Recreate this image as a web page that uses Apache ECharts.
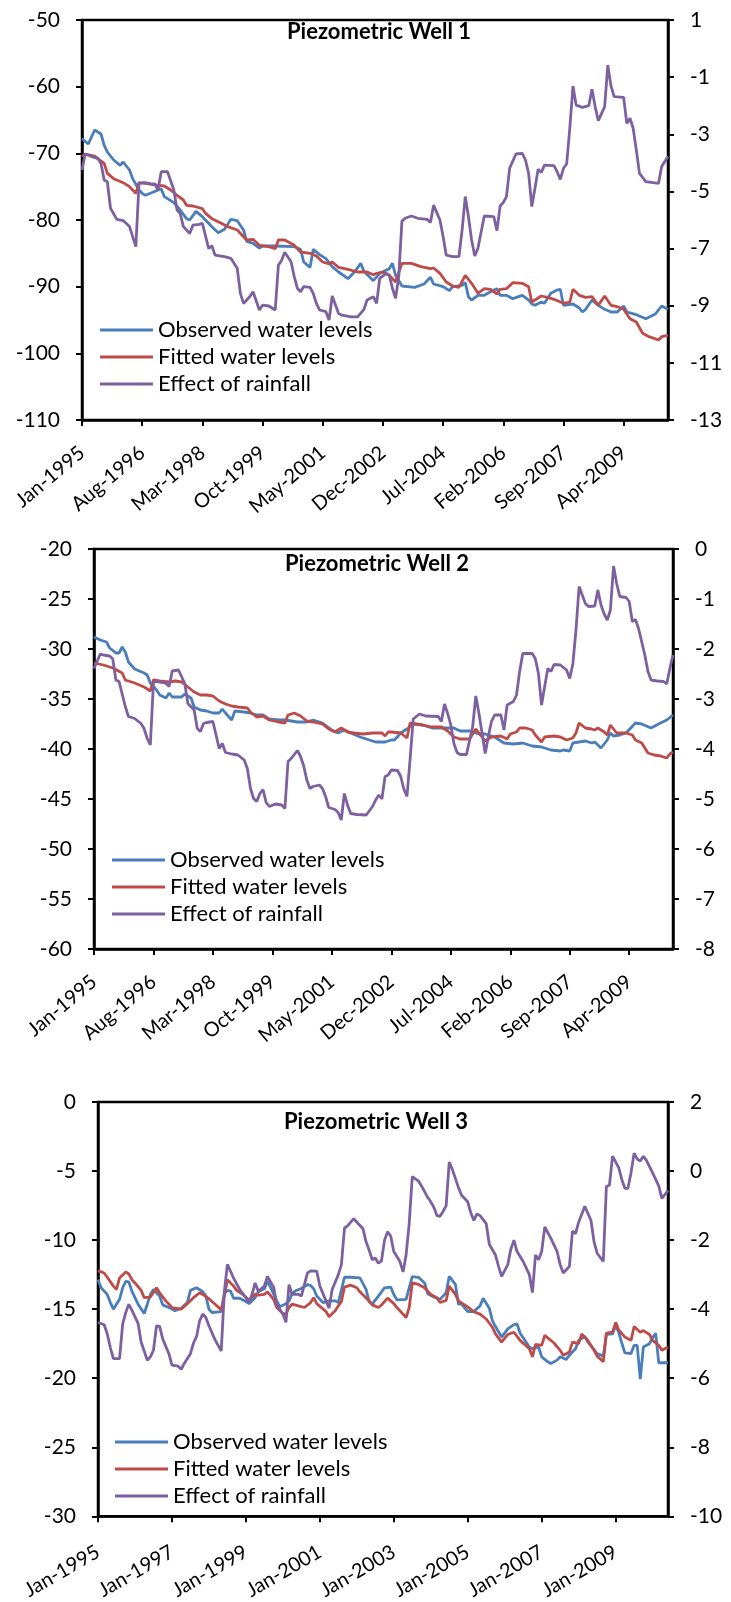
<!DOCTYPE html>
<html>
<head>
<meta charset="utf-8">
<title>Piezometric wells</title>
<script src="https://cdn.jsdelivr.net/npm/echarts@6/dist/echarts.min.js"></script>
<style>
  html, body { margin: 0; padding: 0; background: #fff; }
  #chart { width: 731px; height: 1602px; }
</style>
</head>
<body>
<div id="chart"></div>
<script>
// ===== categories: monthly, Jan-1995 .. Jun-2010 =====
const monthNames = ['Jan', 'Feb', 'Mar', 'Apr', 'May', 'Jun', 'Jul', 'Aug', 'Sep', 'Oct', 'Nov', 'Dec']
const months = []
for (let i = 0; i < 186; i++) months.push(monthNames[i % 12] + '-' + (1995 + Math.floor(i / 12)))

const seriesNames = ['Observed water levels', 'Fitted water levels', 'Effect of rainfall']
const wellTitles = ['Piezometric Well 1', 'Piezometric Well 2', 'Piezometric Well 3']

// ===== data: [month index, value] =====
// Well 1
const obs1 = [[0,-67.8],[2,-68.6],[4,-66.5],[6,-67.1],[7,-68.8],[8,-69.8],[10,-71],[12,-71.8],[13,-71.3],[15,-72.5],[16,-73.8],[18,-75.5],[19,-76],[20,-76.3],[22,-75.9],[25,-75.3],[26,-76.5],[27,-76.8],[29,-77.4],[31,-78.5],[33,-79.8],[34,-80],[36,-78.7],[38,-79.5],[41,-81],[43,-81.9],[45,-81.4],[47,-79.9],[49,-80.1],[51,-81.5],[52,-83.2],[54,-83.5],[56,-84.2],[57,-83.9],[61,-83.9],[67,-84],[69,-84.4],[70,-86.3],[72,-87.1],[73,-84.4],[75,-85.2],[77,-85.8],[79,-87],[81,-87.8],[84,-88.8],[86,-87.8],[88,-86.5],[89,-87.7],[92,-89.1],[94,-88],[97,-87.3],[98,-86.5],[99,-88.3],[101,-89.9],[105,-90.1],[108,-89.6],[110,-88.6],[111,-89.6],[114,-90],[116,-90.6],[117,-90],[120,-89.8],[121,-89.4],[122,-91.5],[123,-92],[125,-91.3],[127,-91.3],[130,-90.5],[131,-90.3],[132,-91.3],[134,-91.3],[136,-91.8],[139,-91.3],[141,-92],[142,-92.6],[143,-92.8],[145,-92.3],[146,-92.5],[148,-91],[150,-90.5],[151,-90.4],[152,-92.8],[155,-92.6],[157,-93.2],[158,-93.8],[159,-93.4],[161,-92],[163,-92.8],[165,-93.4],[167,-93.8],[169,-93.8],[171,-92.9],[172,-93.8],[175,-94.2],[178,-94.8],[181,-94.1],[183,-92.9],[185,-93.4]]
const fit1 = [[0,-70.5],[1,-70.1],[4,-70.4],[5,-70.8],[7,-71.5],[8,-73],[10,-73.8],[13,-74.4],[15,-75],[17,-76],[18,-74.4],[20,-74.5],[24,-74.8],[26,-74.9],[28,-75.5],[30,-76.3],[32,-77],[33,-77.8],[35,-77.9],[38,-78.3],[39,-79],[41,-79.8],[44,-80.5],[46,-81],[49,-81.5],[51,-82.5],[52,-83],[54,-82.9],[56,-83.8],[59,-84],[61,-84.3],[62,-83],[64,-83],[67,-83.8],[69,-84.8],[72,-85],[74,-85.4],[76,-86.3],[78,-86.6],[79,-86.3],[81,-87.1],[84,-87.4],[87,-87.8],[90,-87.8],[92,-88.2],[93,-88],[95,-87.8],[97,-88.3],[99,-89.3],[101,-86.5],[104,-86.5],[107,-87],[110,-87.3],[111,-87.2],[113,-88],[115,-89.3],[117,-89.9],[119,-90.1],[121,-88.3],[123,-89.5],[125,-91],[127,-90.3],[129,-90.4],[131,-91.1],[132,-90.4],[134,-90.3],[136,-89.4],[139,-89.5],[141,-90],[142,-92.3],[145,-91.4],[147,-91.6],[149,-91.9],[152,-92.5],[154,-92.3],[155,-90.4],[157,-91.3],[159,-91.6],[161,-91.5],[163,-92.8],[165,-91.4],[167,-92.8],[169,-93],[171,-93.4],[173,-94.8],[175,-95.3],[177,-97],[179,-97.5],[182,-98],[183,-97.5],[185,-97.3]]
const eff1 = [[0,-4.25],[1,-3.69],[3,-3.78],[5,-3.84],[6,-4.02],[7,-4.6],[8,-4.66],[9,-5.59],[11,-5.98],[13,-6.02],[15,-6.23],[16,-6.58],[17,-6.93],[18,-4.72],[20,-4.69],[22,-4.74],[23,-4.74],[24,-4.95],[25,-4.31],[27,-4.31],[29,-4.95],[30,-5.65],[31,-5.77],[32,-6.23],[34,-6.47],[35,-6.18],[37,-6.15],[38,-6.12],[40,-7],[41,-6.9],[42,-7.23],[45,-7.28],[47,-7.34],[49,-7.69],[50,-8.57],[51,-8.92],[53,-8.68],[54,-8.51],[56,-9.15],[57,-8.98],[59,-9.01],[61,-9.15],[62,-7.58],[63,-7.42],[64,-7.13],[66,-7.46],[67,-7.98],[68,-8.39],[69,-8.51],[70,-8.33],[72,-8.36],[73,-8.57],[74,-8.92],[75,-9.15],[77,-9.21],[78,-9.5],[79,-8.66],[81,-9.27],[82,-9.33],[85,-9.39],[87,-9.39],[89,-9.13],[90,-8.8],[92,-8.69],[93,-8.92],[94,-8.04],[96,-7.87],[97,-7.93],[98,-8.39],[99,-8.74],[100,-7.98],[101,-6.04],[102,-5.94],[104,-5.86],[106,-5.94],[109,-5.98],[110,-6.09],[111,-5.48],[113,-6],[114,-6.58],[115,-7.23],[117,-7.28],[119,-7.28],[120,-6.35],[121,-5.18],[122,-5.88],[123,-6.7],[124,-7.26],[125,-6.99],[127,-5.86],[130,-5.88],[131,-6.37],[132,-5.51],[133,-5.39],[134,-5.18],[135,-4.19],[137,-3.69],[139,-3.67],[140,-3.9],[141,-4.37],[142,-5.53],[143,-4.89],[144,-4.22],[145,-4.34],[146,-4.08],[149,-4.1],[150,-4.31],[151,-4.58],[152,-4.19],[153,-4.04],[154,-2.79],[155,-1.31],[156,-1.98],[158,-2.06],[160,-2],[161,-1.42],[162,-2.03],[163,-2.52],[165,-2.03],[166,-0.58],[167,-1.31],[168,-1.68],[171,-1.71],[172,-2.62],[173,-2.44],[174,-2.79],[175,-3.55],[176,-4.37],[178,-4.66],[182,-4.72],[183,-4.13],[185,-3.78]]

// Well 2
const obs2 = [[0,-28.8],[2,-29.1],[4,-29.3],[5,-29.9],[7,-30.4],[8,-30.4],[9,-29.8],[10,-30.3],[11,-31.3],[13,-32],[16,-32.4],[17,-32.6],[18,-33.4],[20,-34.1],[21,-34.6],[23,-34.9],[24,-34.4],[25,-34.8],[28,-34.8],[29,-34.5],[31,-34.9],[32,-35.8],[34,-36.1],[36,-36.2],[38,-36.4],[40,-36.4],[41,-36],[42,-36.4],[44,-37.1],[45,-36.2],[48,-36.3],[50,-36.4],[52,-36.6],[54,-36.6],[56,-37],[59,-37.1],[61,-37.1],[65,-37.3],[68,-37.3],[70,-37.1],[73,-37.4],[76,-38.1],[78,-38.4],[80,-38.1],[82,-38.4],[85,-38.8],[87,-39],[90,-39.3],[93,-39.3],[95,-39.1],[96,-39.1],[98,-38.4],[100,-38],[102,-37.5],[105,-37.6],[108,-37.9],[113,-37.9],[115,-37.9],[117,-38.2],[120,-38.2],[123,-38.5],[125,-38.5],[128,-38.8],[131,-39.4],[134,-39.5],[137,-39.4],[140,-39.7],[143,-39.8],[146,-40.1],[149,-40.2],[150,-40.1],[152,-40.2],[153,-39.4],[155,-39.3],[157,-39.2],[159,-39.4],[160,-39.3],[162,-39.9],[164,-39.1],[165,-38.4],[166,-38.7],[168,-38.6],[170,-38.4],[173,-37.4],[175,-37.5],[178,-37.9],[181,-37.4],[183,-37.1],[185,-36.6]]
const fit2 = [[0,-31.4],[3,-31.6],[6,-31.9],[9,-32.4],[10,-33.1],[13,-33.4],[16,-33.8],[18,-34.2],[19,-33.1],[21,-33.2],[24,-33.3],[26,-33.2],[28,-33.3],[30,-33.8],[32,-34.3],[34,-34.6],[36,-34.6],[38,-34.7],[40,-35.2],[42,-35.5],[44,-35.7],[46,-35.8],[49,-35.9],[50,-36.3],[52,-36.8],[54,-36.7],[56,-37.1],[59,-37.3],[61,-37.4],[62,-36.6],[64,-36.4],[66,-36.7],[68,-37.2],[70,-37.3],[73,-37.5],[75,-38],[77,-38.3],[79,-37.9],[81,-38.3],[83,-38.4],[86,-38.5],[89,-38.4],[92,-38.4],[93,-38.7],[94,-38.3],[95,-38.3],[98,-38.4],[100,-38.9],[101,-37.4],[105,-37.6],[108,-37.8],[111,-37.8],[113,-38.2],[115,-38.8],[117,-39],[120,-39],[122,-38],[123,-38.4],[125,-39.2],[127,-38.8],[130,-38.7],[132,-39],[133,-38.5],[135,-38.3],[136,-37.9],[138,-37.9],[140,-38.1],[141,-38.6],[143,-39.3],[144,-38.8],[147,-38.7],[149,-38.8],[151,-39.1],[153,-38.9],[154,-38.4],[155,-37.4],[157,-37.9],[159,-38],[160,-38.1],[161,-37.9],[163,-38.3],[164,-38.6],[165,-37.6],[167,-38.4],[170,-38.4],[172,-38.6],[173,-39.1],[175,-39.4],[177,-40.4],[179,-40.6],[181,-40.7],[183,-40.9],[184,-40.5],[185,-40.3]]
const eff2 = [[0,-2.39],[2,-2.1],[3,-2.12],[5,-2.14],[6,-2.2],[7,-2.62],[8,-2.65],[10,-3.15],[11,-3.35],[13,-3.39],[15,-3.49],[16,-3.59],[17,-3.79],[18,-3.92],[19,-2.67],[20,-2.65],[22,-2.67],[23,-2.69],[24,-2.75],[25,-2.44],[27,-2.42],[29,-2.69],[30,-3.09],[32,-3.22],[33,-3.59],[34,-3.65],[35,-3.49],[36,-3.47],[38,-3.45],[39,-3.72],[40,-3.99],[41,-3.89],[42,-4.07],[44,-4.1],[46,-4.12],[48,-4.22],[49,-4.39],[50,-4.79],[51,-4.99],[52,-5.05],[53,-4.89],[54,-4.81],[55,-5.07],[56,-5.15],[58,-5.1],[60,-5.12],[61,-5.19],[62,-4.25],[63,-4.19],[65,-4.03],[66,-4.15],[67,-4.34],[68,-4.62],[69,-4.79],[70,-4.75],[72,-4.72],[73,-4.79],[74,-4.95],[75,-5.17],[77,-5.21],[78,-5.27],[79,-5.42],[80,-4.89],[81,-5.12],[82,-5.29],[84,-5.31],[87,-5.32],[89,-5.15],[90,-5.02],[91,-4.92],[92,-5],[93,-4.55],[94,-4.52],[95,-4.42],[97,-4.43],[98,-4.55],[99,-4.8],[100,-4.95],[101,-4.2],[102,-3.4],[104,-3.3],[106,-3.34],[110,-3.35],[111,-3.45],[112,-3.1],[113,-3.29],[114,-3.52],[115,-3.89],[116,-4.07],[117,-4.11],[119,-4.11],[121,-3.55],[122,-2.94],[123,-3.29],[124,-3.69],[125,-4.09],[126,-3.75],[127,-3.45],[128,-3.32],[130,-3.32],[131,-3.62],[132,-3.12],[134,-3.05],[135,-2.92],[136,-2.45],[137,-2.09],[140,-2.09],[141,-2.19],[142,-2.49],[143,-3.12],[144,-2.75],[145,-2.39],[146,-2.45],[147,-2.31],[149,-2.32],[151,-2.42],[152,-2.59],[153,-2.3],[154,-1.62],[155,-0.75],[157,-1.09],[158,-1.15],[160,-1.14],[161,-0.82],[162,-1.12],[163,-1.3],[164,-1.42],[165,-1.22],[166,-0.34],[167,-0.69],[168,-0.95],[170,-0.97],[171,-1.05],[172,-1.45],[173,-1.41],[174,-1.59],[176,-2.12],[177,-2.45],[178,-2.62],[180,-2.64],[182,-2.65],[183,-2.7],[184,-2.39],[185,-2.12]]

// Well 3
const obs3 = [[0,-12.86],[1,-13.45],[3,-13.93],[4,-14.52],[5,-15],[7,-14.29],[8,-13.45],[9,-12.98],[10,-13.02],[11,-13.69],[13,-14.64],[15,-15.31],[16,-14.64],[17,-13.93],[18,-13.57],[20,-14.05],[21,-14.69],[23,-14.88],[25,-15.12],[27,-14.93],[29,-14.52],[30,-13.64],[32,-13.45],[34,-13.74],[35,-14.05],[36,-15],[37,-15.24],[40,-15.17],[41,-13.88],[42,-13.64],[43,-13.69],[44,-14.21],[46,-14.21],[48,-14.45],[49,-14.6],[51,-14.17],[52,-13.74],[54,-13.52],[55,-12.98],[56,-13.4],[58,-14.4],[59,-14.83],[61,-14.6],[62,-14.4],[63,-13.88],[64,-13.69],[66,-13.5],[68,-13.21],[69,-13.29],[70,-13.52],[71,-14.05],[73,-14.52],[75,-14.4],[77,-14.4],[78,-14.52],[80,-12.69],[82,-12.69],[85,-12.74],[87,-13.57],[88,-14.45],[89,-14.64],[91,-14.05],[93,-13.45],[95,-13.4],[96,-13.93],[97,-14.33],[100,-14.29],[101,-13.45],[102,-12.64],[104,-12.69],[106,-13.1],[107,-13.88],[109,-14.12],[111,-14.29],[113,-13.81],[114,-12.62],[116,-13.21],[117,-14.64],[118,-14.64],[120,-15.17],[122,-15.17],[124,-14.76],[125,-14.21],[127,-14.93],[128,-15.83],[129,-16.26],[131,-17.02],[133,-16.43],[135,-16.12],[136,-16.07],[137,-16.74],[138,-17.07],[140,-17.74],[141,-17.86],[143,-17.74],[144,-18.45],[146,-18.81],[147,-18.93],[149,-18.69],[150,-18.45],[152,-18.64],[153,-18.33],[155,-17.86],[156,-17.26],[158,-16.98],[159,-17.38],[161,-17.93],[162,-18.21],[164,-18.4],[165,-16.83],[167,-16.79],[168,-16.19],[169,-16.67],[170,-17.45],[171,-18.17],[173,-18.21],[174,-17.62],[175,-17.62],[176,-20.07],[177,-17.74],[179,-17.5],[180,-17.07],[181,-16.74],[182,-18.88],[185,-18.88]]
const fit3 = [[0,-12.21],[2,-12.38],[3,-12.69],[5,-13.33],[6,-13.57],[7,-12.74],[9,-12.31],[10,-12.45],[11,-12.86],[12,-13.1],[14,-13.64],[15,-14.17],[17,-14.12],[19,-13.45],[20,-13.81],[22,-14.4],[24,-14.88],[27,-15],[29,-14.6],[31,-14.17],[33,-13.81],[34,-13.93],[36,-14.24],[38,-14.64],[40,-15.05],[41,-14.05],[42,-12.86],[44,-13.33],[45,-13.64],[47,-13.93],[49,-14.33],[51,-13.93],[52,-13.98],[54,-13.93],[55,-13.74],[57,-14.29],[58,-14.88],[60,-15.31],[61,-15.36],[62,-14.88],[63,-14.64],[65,-14.76],[67,-14.88],[69,-14.52],[70,-14.17],[71,-14.6],[74,-15.17],[75,-15.55],[77,-15.12],[78,-14.76],[79,-14.45],[80,-13.4],[82,-13.26],[84,-13.45],[85,-13.74],[88,-14.4],[89,-14.69],[91,-14.88],[92,-14.7],[94,-14.2],[96,-14.6],[97,-14.88],[100,-15.6],[101,-14.88],[102,-13.1],[104,-13.21],[106,-13.45],[108,-13.93],[110,-14.17],[111,-14.52],[113,-14.36],[114,-13.33],[116,-13.93],[117,-14.4],[120,-14.83],[122,-15.19],[124,-15.36],[126,-15.71],[128,-16.31],[129,-16.79],[131,-17.38],[133,-16.83],[135,-16.67],[137,-17.26],[140,-17.86],[141,-18.45],[142,-17.55],[144,-17.62],[145,-16.9],[148,-17.45],[150,-17.98],[151,-18.33],[153,-18.1],[154,-17.38],[156,-17.5],[157,-16.79],[159,-17.26],[161,-17.98],[162,-18.4],[164,-18.81],[165,-16.74],[167,-16.67],[168,-15.95],[169,-16.5],[171,-17.02],[173,-17.26],[174,-16.26],[176,-16.67],[177,-16.55],[179,-16.83],[180,-17.26],[182,-17.62],[183,-17.98],[185,-17.74]]
const eff3 = [[0,-4.38],[2,-4.45],[3,-4.71],[4,-5.11],[5,-5.43],[7,-5.43],[8,-4.43],[9,-4.1],[10,-3.86],[11,-4.03],[13,-4.41],[14,-4.95],[16,-5.48],[17,-5.38],[18,-5.19],[19,-4.48],[20,-4.5],[21,-4.86],[23,-5.29],[24,-5.62],[26,-5.65],[27,-5.74],[28,-5.57],[30,-5.29],[31,-4.98],[32,-4.79],[33,-4.33],[34,-4.14],[35,-4.24],[36,-4.48],[38,-4.89],[40,-5.21],[41,-3.5],[42,-2.7],[44,-3.1],[46,-3.43],[48,-3.67],[49,-3.81],[50,-3.57],[51,-3.24],[52,-3.48],[54,-3.33],[55,-3.05],[57,-3.36],[58,-3.86],[60,-4.14],[61,-4.38],[62,-3.29],[63,-3.57],[65,-3.57],[66,-3.62],[68,-2.95],[69,-2.89],[71,-2.9],[72,-3.33],[74,-3.76],[75,-3.97],[76,-3.43],[78,-3],[79,-2.71],[80,-1.65],[81,-1.59],[83,-1.38],[86,-1.67],[87,-2.05],[88,-2.29],[89,-2.57],[90,-2.52],[91,-2.67],[92,-2.6],[93,-2],[94,-1.76],[95,-1.88],[96,-2.33],[98,-2.62],[99,-2.92],[100,-2.43],[101,-1.52],[102,-0.16],[104,-0.29],[105,-0.43],[107,-0.76],[108,-0.89],[109,-1.05],[110,-1.29],[111,-1.31],[112,-1.17],[113,-1],[114,0.26],[115,0.05],[117,-0.48],[118,-0.7],[120,-0.89],[121,-1.21],[122,-1.43],[123,-1.24],[124,-1.29],[126,-1.52],[127,-2.12],[129,-2.43],[130,-2.76],[131,-3.05],[133,-2.71],[134,-2.26],[135,-2],[136,-2.33],[138,-2.62],[140,-3],[141,-3.52],[142,-2.43],[143,-2.57],[144,-2.33],[145,-1.62],[147,-1.95],[149,-2.33],[150,-2.71],[151,-2.95],[153,-2.76],[154,-1.74],[155,-1.81],[156,-1.48],[158,-1.02],[160,-1.43],[161,-2.05],[162,-2.38],[164,-2.62],[165,-0.45],[166,-0.41],[167,0.43],[169,0.1],[170,-0.24],[171,-0.5],[172,-0.5],[173,-0.05],[174,0.52],[175,0.35],[176,0.29],[177,0.43],[178,0.31],[180,-0.05],[182,-0.43],[183,-0.79],[185,-0.57]]

// ===== axis ranges / tick steps =====
const leftAxes = [[-110, -50, 10], [-60, -20, 5], [-30, 0, 5]]
const rightAxes = [[-13, 1, 2], [-8, 0, 1], [-10, 2, 2]]
const labelEvery = [19, 19, 24]

const wells = [[obs1, fit1, eff1], [obs2, fit2, eff2], [obs3, fit3, eff3]]

// ===== layout =====
const colors = ['#4A7EBB', '#BE4B48', '#7D60A0']
const FONT = 'Lato, "Open Sans", sans-serif'
const grids = [
  { left: 82, top: 20, width: 586, height: 400 },
  { left: 94, top: 549, width: 579, height: 400 },
  { left: 98, top: 1102, width: 570, height: 420 }
]
const titlePos = [[287, 21], [285, 553], [284, 1111]]
const legendPos = [[95, 314], [107, 844], [110, 1426]]
const xRotate = [40, 40, 30]
const xMargin = [30, 30, 34]

let myChart = echarts.init(document.getElementById('chart'))

let option = {
  animation: false,
  backgroundColor: '#fff',
  title: [],
  legend: [],
  grid: [],
  xAxis: [],
  yAxis: [],
  series: []
}

const axisLine = { show: true, onZero: false, lineStyle: { color: '#000', width: 2.5 } }
const axisTick = { show: true, length: 6, lineStyle: { color: '#000', width: 2 } }
const tickText = { color: '#000', fontSize: 21, fontFamily: FONT }

for (let w = 0; w < 3; w++) {
  option.grid.push(Object.assign({ show: true, borderColor: '#000', borderWidth: 2.5 }, grids[w]))

  option.title.push({
    text: wellTitles[w],
    left: titlePos[w][0],
    top: titlePos[w][1],
    padding: 0,
    textStyle: { fontSize: 22, fontWeight: 'bold', fontFamily: FONT, color: '#000' }
  })

  // plain line samples in the legend, no symbol
  option.legend.push({
    left: legendPos[w][0],
    top: legendPos[w][1],
    orient: 'vertical',
    icon: 'rect',
    itemWidth: 53,
    itemHeight: 3,
    itemGap: 5,
    selectedMode: false,
    textStyle: { fontSize: 22, lineHeight: 22, fontFamily: FONT, color: '#000' },
    data: seriesNames
  })

  option.xAxis.push({
    type: 'category',
    gridIndex: w,
    data: months,
    boundaryGap: false,
    axisLine: axisLine,
    axisTick: Object.assign({ interval: labelEvery[w] - 1 }, axisTick),
    axisLabel: Object.assign({}, tickText, {
      interval: labelEvery[w] - 1,
      rotate: xRotate[w],
      margin: xMargin[w],
      fontSize: 20
    }),
    splitLine: { show: false }
  })

  option.yAxis.push({
    type: 'value',
    gridIndex: w,
    position: 'left',
    min: leftAxes[w][0],
    max: leftAxes[w][1],
    interval: leftAxes[w][2],
    axisLine: axisLine,
    axisTick: axisTick,
    axisLabel: Object.assign({ margin: 22 }, tickText),
    splitLine: { show: false }
  })
  option.yAxis.push({
    type: 'value',
    gridIndex: w,
    position: 'right',
    min: rightAxes[w][0],
    max: rightAxes[w][1],
    interval: rightAxes[w][2],
    axisLine: axisLine,
    axisTick: axisTick,
    axisLabel: Object.assign({ margin: 22 }, tickText),
    splitLine: { show: false }
  })

  for (let s = 0; s < 3; s++) {
    option.series.push({
      name: seriesNames[s],
      type: 'line',
      xAxisIndex: w,
      yAxisIndex: w * 2 + (s === 2 ? 1 : 0),
      data: wells[w][s],
      symbol: 'none',
      color: colors[s],
      lineStyle: { color: colors[s], width: 2.8 },
      z: 2 + s
    })
  }
}

myChart.setOption(option)
</script>
</body>
</html>
